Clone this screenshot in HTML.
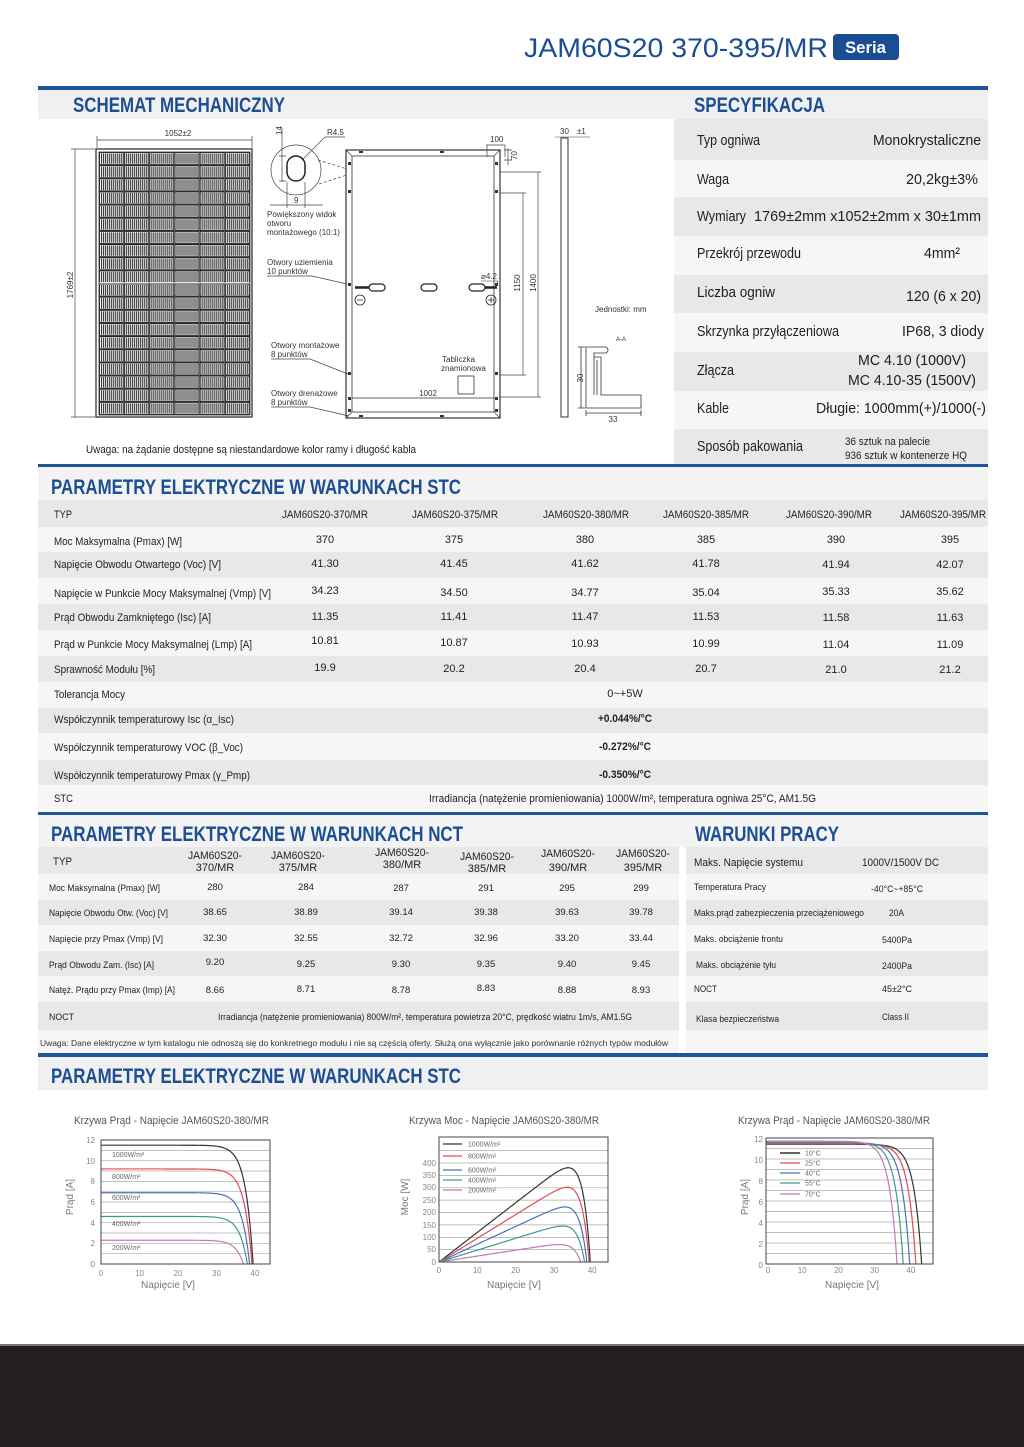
<!DOCTYPE html>
<html><head><meta charset="utf-8">
<style>
html,body{margin:0;padding:0;background:#fff;}
svg{display:block;font-family:"Liberation Sans",Arial,sans-serif;}
.h{font-weight:700;fill:#1d4e92;font-size:21px;}
.sp{font-size:15px;fill:#1e1e1e;}
.t{font-size:11px;fill:#222;}
.n{font-size:9.5px;fill:#222;}
.d{font-size:8px;fill:#333;}
.ax{font-size:8px;fill:#888;}
.at{font-size:10px;fill:#777;}
.ct{font-size:11px;fill:#555;}
.lg{font-size:7px;fill:#666;}
.m{text-anchor:middle;}
.e{text-anchor:end;}
</style></head><body>
<svg id="s" width="1024" height="1447" viewBox="0 0 1024 1447" xmlns="http://www.w3.org/2000/svg">
<defs>
<pattern id="cell" x="99" y="152" width="25.17" height="13.15" patternUnits="userSpaceOnUse">
<rect x="0.5" y="0.5" width="23.9" height="12.1" fill="#fff" stroke="#222" stroke-width="1"/>
<path d="M2.5 1.5V11.7M4.5 1.5V11.7M6.5 1.5V11.7M8.5 1.5V11.7M10.5 1.5V11.7M12.5 1.5V11.7M14.5 1.5V11.7M16.5 1.5V11.7M18.5 1.5V11.7M20.5 1.5V11.7M22.5 1.5V11.7" stroke="#333" stroke-width="1.1"/>
</pattern>
</defs>
<rect width="1024" height="1447" fill="#fff"/>

<!-- Title -->
<text x="524" y="57" font-size="27" fill="#1b4d95" textLength="304" lengthAdjust="spacingAndGlyphs">JAM60S20 370-395/MR</text>
<rect x="833" y="34" width="66" height="26" rx="4" fill="#1b4d95"/>
<text x="845" y="53" font-size="17" font-weight="bold" fill="#fff" textLength="41" lengthAdjust="spacingAndGlyphs">Seria</text>

<!-- Section 1 header -->
<rect x="38" y="86" width="950" height="4" fill="#1f5597"/>
<rect x="38" y="90" width="950" height="29" fill="#f0f0f0"/>
<text class="h" x="73" y="112" font-size="20" textLength="212" lengthAdjust="spacingAndGlyphs">SCHEMAT MECHANICZNY</text>
<text class="h" x="694" y="112" font-size="20" textLength="131" lengthAdjust="spacingAndGlyphs">SPECYFIKACJA</text>

<!-- Spec rows -->
<rect x="674" y="119" width="314" height="41" fill="#e8e8e8"/>
<rect x="674" y="160" width="314" height="37" fill="#f6f6f6"/>
<rect x="674" y="197" width="314" height="39" fill="#e8e8e8"/>
<rect x="674" y="236" width="314" height="39" fill="#f6f6f6"/>
<rect x="674" y="275" width="314" height="38" fill="#e8e8e8"/>
<rect x="674" y="313" width="314" height="39" fill="#f6f6f6"/>
<rect x="674" y="352" width="314" height="39" fill="#e8e8e8"/>
<rect x="674" y="391" width="314" height="38" fill="#f6f6f6"/>
<rect x="674" y="429" width="314" height="35" fill="#e8e8e8"/>

<text class="sp" x="697" y="145" textLength="63" lengthAdjust="spacingAndGlyphs">Typ ogniwa</text>
<text class="sp" x="873" y="145" textLength="108" lengthAdjust="spacingAndGlyphs">Monokrystaliczne</text>
<text class="sp" x="697" y="184" textLength="32" lengthAdjust="spacingAndGlyphs">Waga</text>
<text class="sp" x="906" y="184" textLength="72" lengthAdjust="spacingAndGlyphs">20,2kg±3%</text>
<text class="sp" x="697" y="221" textLength="49" lengthAdjust="spacingAndGlyphs">Wymiary</text>
<text class="sp" x="754" y="221" textLength="227" lengthAdjust="spacingAndGlyphs">1769±2mm x1052±2mm x 30±1mm</text>
<text class="sp" x="697" y="258" textLength="104" lengthAdjust="spacingAndGlyphs">Przekrój przewodu</text>
<text class="sp" x="924" y="258" textLength="36" lengthAdjust="spacingAndGlyphs">4mm²</text>
<text class="sp" x="697" y="297" textLength="78" lengthAdjust="spacingAndGlyphs">Liczba ogniw</text>
<text class="sp" x="906" y="301" textLength="75" lengthAdjust="spacingAndGlyphs">120 (6 x 20)</text>
<text class="sp" x="697" y="336" textLength="142" lengthAdjust="spacingAndGlyphs">Skrzynka przyłączeniowa</text>
<text class="sp" x="902" y="336" textLength="82" lengthAdjust="spacingAndGlyphs">IP68, 3 diody</text>
<text class="sp" x="697" y="375" textLength="37" lengthAdjust="spacingAndGlyphs">Złącza</text>
<text class="sp" x="858" y="365" textLength="108" lengthAdjust="spacingAndGlyphs">MC 4.10 (1000V)</text>
<text class="sp" x="848" y="385" textLength="128" lengthAdjust="spacingAndGlyphs">MC 4.10-35 (1500V)</text>
<text class="sp" x="697" y="413" textLength="32" lengthAdjust="spacingAndGlyphs">Kable</text>
<text class="sp" x="816" y="413" textLength="170" lengthAdjust="spacingAndGlyphs">Długie: 1000mm(+)/1000(-)</text>
<text class="sp" x="697" y="451" textLength="106" lengthAdjust="spacingAndGlyphs">Sposób pakowania</text>
<text x="845" y="445" font-size="11" fill="#222" textLength="85" lengthAdjust="spacingAndGlyphs">36 sztuk na palecie</text>
<text x="845" y="459" font-size="11" fill="#222" textLength="122" lengthAdjust="spacingAndGlyphs">936 sztuk w kontenerze HQ</text>

<!-- Mechanical drawing: front view -->
<g stroke="#444" stroke-width="0.7" fill="none">
<path d="M97 136V148M252 136V148M97 140H252"/>
<path d="M71 149H95M71 417H95M75 149V417"/>
</g>
<text class="d m" x="178" y="136">1052±2</text>
<text class="d m" transform="translate(73,285) rotate(-90)">1769±2</text>
<rect x="96" y="149" width="156" height="268" fill="#fff" stroke="#333" stroke-width="1.3"/>
<rect x="99" y="152" width="151" height="263" fill="url(#cell)" stroke="#333" stroke-width="0.8"/>
<path d="M99 283H250" stroke="#fff" stroke-width="1"/>

<!-- detail view -->
<g stroke="#444" stroke-width="0.7" fill="none">
<circle cx="296" cy="170" r="25"/>
<path d="M282 128V182M279 156H286M279 181H286"/>
<path d="M270 205H323M287 182V208M305 182V208"/>
<path d="M325 137H345M325 137L302 160"/>
<path d="M318 160L347 169M319 184L347 175" stroke-dasharray="3,2"/>
</g>
<rect x="287" y="156" width="18" height="25" rx="9" fill="none" stroke="#222" stroke-width="1.5"/>
<text class="d" transform="translate(282,135) rotate(-90)">14</text>
<text class="d" x="327" y="135">R4.5</text>
<text class="d" x="294" y="203">9</text>
<text class="d" x="267" y="217">Powiększony widok</text>
<text class="d" x="267" y="226">otworu</text>
<text class="d" x="267" y="235">montażowego (10:1)</text>
<text class="d" x="267" y="265">Otwory uziemienia</text>
<text class="d" x="267" y="274">10 punktów</text>
<text class="d" x="271" y="348">Otwory montażowe</text>
<text class="d" x="271" y="357">8 punktów</text>
<text class="d" x="271" y="396">Otwory drenażowe</text>
<text class="d" x="271" y="405">8 punktów</text>
<g stroke="#444" stroke-width="0.7" fill="none">
<path d="M267 276H312L347 284"/>
<path d="M271 359H310L348 374"/>
<path d="M271 407H310L349 416"/>
</g>

<!-- back view -->
<g stroke="#333" fill="none">
<rect x="346" y="150" width="154" height="268" stroke-width="1.2"/>
<rect x="352" y="156" width="142" height="256" stroke-width="0.8"/>
<path d="M346 150L352 156M500 150L494 156M346 418L352 412M500 418L494 412" stroke-width="0.7"/>
<path d="M352 398H494" stroke-width="0.8"/>
</g>
<g fill="#333">
<rect x="348" y="162" width="3" height="3"/><rect x="348" y="190" width="3" height="3"/><rect x="348" y="283" width="3" height="3"/><rect x="348" y="372" width="3" height="3"/><rect x="348" y="397" width="3" height="3"/><rect x="348" y="409" width="3" height="3"/>
<rect x="495" y="162" width="3" height="3"/><rect x="495" y="190" width="3" height="3"/><rect x="495" y="283" width="3" height="3"/><rect x="495" y="372" width="3" height="3"/><rect x="495" y="397" width="3" height="3"/><rect x="495" y="409" width="3" height="3"/>
<rect x="359" y="151" width="4" height="2"/><rect x="440" y="151" width="4" height="2"/><rect x="359" y="415" width="4" height="2"/><rect x="440" y="415" width="4" height="2"/>
</g>
<g fill="none" stroke="#222" stroke-width="1.2">
<rect x="369" y="284" width="16" height="7" rx="3.5"/>
<rect x="421" y="284" width="16" height="7" rx="3.5"/>
<rect x="469" y="284" width="16" height="7" rx="3.5"/>
<circle cx="360" cy="300" r="5" stroke-width="0.8"/>
<circle cx="491" cy="300" r="5" stroke-width="0.8"/>
<path d="M357 300H363M488 300H494M491 297V303" stroke-width="0.8"/>
</g>
<path d="M355 287.5H369M485 287.5H497" stroke="#222" stroke-width="2.5"/>
<text class="d" x="481" y="279">⌀4.2</text>
<path d="M481 281H498L494 288" stroke="#444" stroke-width="0.6" fill="none"/>
<g stroke="#444" stroke-width="0.7" fill="none">
<path d="M500 193H526M500 375H526M523 193V375M500 172H541M500 397H541M538 172V397"/>
<path d="M486 145H505M487 145V157M505 145V157"/>
<path d="M508 148V165M504 150H512M504 160H512"/>
</g>
<text class="d m" transform="translate(520,283) rotate(-90)">1150</text>
<text class="d m" transform="translate(536,283) rotate(-90)">1400</text>
<text class="d" x="490" y="142">100</text>
<text class="d" transform="translate(517,160) rotate(-90)">70</text>
<text class="d" x="442" y="362">Tabliczka</text>
<text class="d" x="441" y="371">znamionowa</text>
<rect x="458" y="376" width="16" height="18" fill="none" stroke="#333" stroke-width="0.8"/>
<text class="d m" x="428" y="396">1002</text>

<!-- side view -->
<rect x="561" y="138" width="7" height="279" fill="none" stroke="#333" stroke-width="1"/>
<path d="M555 137H590" stroke="#444" stroke-width="0.6"/>
<text class="d" x="560" y="134">30</text>
<text class="d" x="577" y="134">±1</text>
<text class="d" x="595" y="312">Jednostki: mm</text>
<text x="616" y="341" font-size="6" fill="#333">A-A</text>
<g fill="none" stroke="#333" stroke-width="0.8">
<path d="M586 347H606Q610 350 606 353H594V357H601V395H641V408H586Z"/>
<path d="M594 357V395M597 360V395"/>
<path d="M581 347V408M578 347H585M578 408H585"/>
<path d="M586 413H641M586 410V416M641 410V416"/>
</g>
<text class="d m" transform="translate(583,378) rotate(-90)">30</text>
<text class="d m" x="613" y="422">33</text>

<text x="86" y="453" font-size="11" fill="#222" textLength="330" lengthAdjust="spacingAndGlyphs">Uwaga: na żądanie dostępne są niestandardowe kolor ramy i długość kabla</text>

<!-- STC section -->
<rect x="38" y="464" width="950" height="3" fill="#1f5597"/>
<rect x="38" y="467" width="950" height="33" fill="#f3f3f3"/>
<text class="h" x="51" y="494" textLength="410" lengthAdjust="spacingAndGlyphs">PARAMETRY ELEKTRYCZNE W WARUNKACH STC</text>
<rect x="38" y="500" width="950" height="27" fill="#e8e8e8"/>
<rect x="38" y="527" width="950" height="25" fill="#f6f6f6"/>
<rect x="38" y="552" width="950" height="26" fill="#e8e8e8"/>
<rect x="38" y="578" width="950" height="26" fill="#f6f6f6"/>
<rect x="38" y="604" width="950" height="26" fill="#e8e8e8"/>
<rect x="38" y="630" width="950" height="26" fill="#f6f6f6"/>
<rect x="38" y="656" width="950" height="26" fill="#e8e8e8"/>
<rect x="38" y="682" width="950" height="26" fill="#f6f6f6"/>
<rect x="38" y="708" width="950" height="25" fill="#e8e8e8"/>
<rect x="38" y="733" width="950" height="27" fill="#f6f6f6"/>
<rect x="38" y="760" width="950" height="25" fill="#e8e8e8"/>
<rect x="38" y="785" width="950" height="27" fill="#f6f6f6"/>

<text class="t" x="54" y="518" textLength="18" lengthAdjust="spacingAndGlyphs">TYP</text>
<text class="t m" x="325" y="518" textLength="86" lengthAdjust="spacingAndGlyphs">JAM60S20-370/MR</text>
<text class="t m" x="455" y="518" textLength="86" lengthAdjust="spacingAndGlyphs">JAM60S20-375/MR</text>
<text class="t m" x="586" y="518" textLength="86" lengthAdjust="spacingAndGlyphs">JAM60S20-380/MR</text>
<text class="t m" x="706" y="518" textLength="86" lengthAdjust="spacingAndGlyphs">JAM60S20-385/MR</text>
<text class="t m" x="829" y="518" textLength="86" lengthAdjust="spacingAndGlyphs">JAM60S20-390/MR</text>
<text class="t m" x="943" y="518" textLength="86" lengthAdjust="spacingAndGlyphs">JAM60S20-395/MR</text>

<text class="t" x="54" y="545" textLength="128" lengthAdjust="spacingAndGlyphs">Moc Maksymalna (Pmax) [W]</text>
<text class="t m" x="325" y="543">370</text><text class="t m" x="454" y="543">375</text><text class="t m" x="585" y="543">380</text><text class="t m" x="706" y="543">385</text><text class="t m" x="836" y="543">390</text><text class="t m" x="950" y="543">395</text>

<text class="t" x="54" y="568" textLength="167" lengthAdjust="spacingAndGlyphs">Napięcie Obwodu Otwartego (Voc) [V]</text>
<text class="t m" x="325" y="567">41.30</text><text class="t m" x="454" y="567">41.45</text><text class="t m" x="585" y="567">41.62</text><text class="t m" x="706" y="567">41.78</text><text class="t m" x="836" y="568">41.94</text><text class="t m" x="950" y="568">42.07</text>

<text class="t" x="54" y="597" textLength="217" lengthAdjust="spacingAndGlyphs">Napięcie w Punkcie Mocy Maksymalnej (Vmp) [V]</text>
<text class="t m" x="325" y="594">34.23</text><text class="t m" x="454" y="596">34.50</text><text class="t m" x="585" y="596">34.77</text><text class="t m" x="706" y="596">35.04</text><text class="t m" x="836" y="595">35.33</text><text class="t m" x="950" y="595">35.62</text>

<text class="t" x="54" y="621" textLength="157" lengthAdjust="spacingAndGlyphs">Prąd Obwodu Zamkniętego (Isc) [A]</text>
<text class="t m" x="325" y="620">11.35</text><text class="t m" x="454" y="620">11.41</text><text class="t m" x="585" y="620">11.47</text><text class="t m" x="706" y="620">11.53</text><text class="t m" x="836" y="621">11.58</text><text class="t m" x="950" y="621">11.63</text>

<text class="t" x="54" y="648" textLength="198" lengthAdjust="spacingAndGlyphs">Prąd w Punkcie Mocy Maksymalnej (Lmp) [A]</text>
<text class="t m" x="325" y="644">10.81</text><text class="t m" x="454" y="646">10.87</text><text class="t m" x="585" y="647">10.93</text><text class="t m" x="706" y="647">10.99</text><text class="t m" x="836" y="648">11.04</text><text class="t m" x="950" y="648">11.09</text>

<text class="t" x="54" y="673" textLength="101" lengthAdjust="spacingAndGlyphs">Sprawność Modułu [%]</text>
<text class="t m" x="325" y="671">19.9</text><text class="t m" x="454" y="672">20.2</text><text class="t m" x="585" y="672">20.4</text><text class="t m" x="706" y="672">20.7</text><text class="t m" x="836" y="673">21.0</text><text class="t m" x="950" y="673">21.2</text>

<text class="t" x="54" y="698" textLength="71" lengthAdjust="spacingAndGlyphs">Tolerancja Mocy</text>
<text class="t m" x="625" y="697">0~+5W</text>
<text class="t" x="54" y="723" textLength="180" lengthAdjust="spacingAndGlyphs">Współczynnik temperaturowy  Isc (α_Isc)</text>
<text class="t m" x="625" y="722" font-weight="bold" textLength="54" lengthAdjust="spacingAndGlyphs">+0.044%/°C</text>
<text class="t" x="54" y="751" textLength="189" lengthAdjust="spacingAndGlyphs">Współczynnik temperaturowy VOC (β_Voc)</text>
<text class="t m" x="625" y="750" font-weight="bold" textLength="52" lengthAdjust="spacingAndGlyphs">-0.272%/°C</text>
<text class="t" x="54" y="779" textLength="196" lengthAdjust="spacingAndGlyphs">Współczynnik temperaturowy Pmax (γ_Pmp)</text>
<text class="t m" x="625" y="778" font-weight="bold" textLength="52" lengthAdjust="spacingAndGlyphs">-0.350%/°C</text>
<text class="t" x="54" y="802" textLength="19" lengthAdjust="spacingAndGlyphs">STC</text>
<text class="t" x="429" y="802" textLength="387" lengthAdjust="spacingAndGlyphs">Irradiancja   (natężenie promieniowania)  1000W/m², temperatura ogniwa 25°C, AM1.5G</text>

<!-- NCT section -->
<rect x="38" y="812" width="950" height="3" fill="#1f5597"/>
<rect x="38" y="815" width="950" height="32" fill="#f3f3f3"/>
<text class="h" x="51" y="841" textLength="412" lengthAdjust="spacingAndGlyphs">PARAMETRY ELEKTRYCZNE W WARUNKACH NCT</text>
<text class="h" x="695" y="841" textLength="144" lengthAdjust="spacingAndGlyphs">WARUNKI PRACY</text>
<rect x="38" y="847" width="641" height="27" fill="#e8e8e8"/>
<rect x="38" y="874" width="641" height="26" fill="#f6f6f6"/>
<rect x="38" y="900" width="641" height="25" fill="#e8e8e8"/>
<rect x="38" y="925" width="641" height="26" fill="#f6f6f6"/>
<rect x="38" y="951" width="641" height="25" fill="#e8e8e8"/>
<rect x="38" y="976" width="641" height="26" fill="#f6f6f6"/>
<rect x="38" y="1002" width="641" height="28" fill="#e8e8e8"/>
<rect x="38" y="1030" width="641" height="23" fill="#f6f6f6"/>
<rect x="686" y="847" width="302" height="27" fill="#e8e8e8"/>
<rect x="686" y="874" width="302" height="26" fill="#f6f6f6"/>
<rect x="686" y="900" width="302" height="25" fill="#e8e8e8"/>
<rect x="686" y="925" width="302" height="26" fill="#f6f6f6"/>
<rect x="686" y="951" width="302" height="25" fill="#e8e8e8"/>
<rect x="686" y="976" width="302" height="26" fill="#f6f6f6"/>
<rect x="686" y="1002" width="302" height="28" fill="#e8e8e8"/>
<rect x="686" y="1030" width="302" height="23" fill="#f6f6f6"/>

<text class="t" x="53" y="865" textLength="19" lengthAdjust="spacingAndGlyphs">TYP</text>
<text class="t m" x="215" y="859" textLength="54" lengthAdjust="spacingAndGlyphs">JAM60S20-</text><text class="t m" x="215" y="871">370/MR</text>
<text class="t m" x="298" y="859" textLength="54" lengthAdjust="spacingAndGlyphs">JAM60S20-</text><text class="t m" x="298" y="871">375/MR</text>
<text class="t m" x="402" y="856" textLength="54" lengthAdjust="spacingAndGlyphs">JAM60S20-</text><text class="t m" x="402" y="868">380/MR</text>
<text class="t m" x="487" y="860" textLength="54" lengthAdjust="spacingAndGlyphs">JAM60S20-</text><text class="t m" x="487" y="872">385/MR</text>
<text class="t m" x="568" y="857" textLength="54" lengthAdjust="spacingAndGlyphs">JAM60S20-</text><text class="t m" x="568" y="871">390/MR</text>
<text class="t m" x="643" y="857" textLength="54" lengthAdjust="spacingAndGlyphs">JAM60S20-</text><text class="t m" x="643" y="871">395/MR</text>

<text class="n" x="49" y="891" textLength="111" lengthAdjust="spacingAndGlyphs">Moc Maksymalna (Pmax) [W]</text>
<text class="n m" x="215" y="890">280</text><text class="n m" x="306" y="890">284</text><text class="n m" x="401" y="891">287</text><text class="n m" x="486" y="891">291</text><text class="n m" x="567" y="891">295</text><text class="n m" x="641" y="891">299</text>
<text class="n" x="49" y="916" textLength="119" lengthAdjust="spacingAndGlyphs">Napięcie Obwodu Otw. (Voc) [V]</text>
<text class="n m" x="215" y="915">38.65</text><text class="n m" x="306" y="915">38.89</text><text class="n m" x="401" y="915">39.14</text><text class="n m" x="486" y="915">39.38</text><text class="n m" x="567" y="915">39.63</text><text class="n m" x="641" y="915">39.78</text>
<text class="n" x="49" y="942" textLength="114" lengthAdjust="spacingAndGlyphs">Napięcie przy Pmax (Vmp) [V]</text>
<text class="n m" x="215" y="941">32.30</text><text class="n m" x="306" y="941">32.55</text><text class="n m" x="401" y="941">32.72</text><text class="n m" x="486" y="941">32.96</text><text class="n m" x="567" y="941">33.20</text><text class="n m" x="641" y="941">33.44</text>
<text class="n" x="49" y="968" textLength="105" lengthAdjust="spacingAndGlyphs">Prąd Obwodu Zam. (Isc) [A]</text>
<text class="n m" x="215" y="965">9.20</text><text class="n m" x="306" y="967">9.25</text><text class="n m" x="401" y="967">9.30</text><text class="n m" x="486" y="967">9.35</text><text class="n m" x="567" y="967">9.40</text><text class="n m" x="641" y="967">9.45</text>
<text class="n" x="49" y="993" textLength="126" lengthAdjust="spacingAndGlyphs">Natęż. Prądu przy Pmax (Imp) [A]</text>
<text class="n m" x="215" y="993">8.66</text><text class="n m" x="306" y="992">8.71</text><text class="n m" x="401" y="993">8.78</text><text class="n m" x="486" y="991">8.83</text><text class="n m" x="567" y="993">8.88</text><text class="n m" x="641" y="993">8.93</text>
<text class="n" x="49" y="1020" textLength="25" lengthAdjust="spacingAndGlyphs">NOCT</text>
<text class="n" x="218" y="1020" textLength="414" lengthAdjust="spacingAndGlyphs">Irradiancja (natężenie promieniowania) 800W/m², temperatura powietrza 20°C, prędkość wiatru 1m/s, AM1.5G</text>
<text x="40" y="1046" font-size="8.5" fill="#333" textLength="628" lengthAdjust="spacingAndGlyphs">Uwaga: Dane elektryczne w tym katalogu nie odnoszą się do konkretnego modułu i nie są częścią oferty. Służą ona wyłącznie jako porównanie różnych typów modułów</text>

<text x="694" y="866" font-size="11" fill="#222" textLength="109" lengthAdjust="spacingAndGlyphs">Maks. Napięcie  systemu</text>
<text x="862" y="866" font-size="11" fill="#222" textLength="77" lengthAdjust="spacingAndGlyphs">1000V/1500V DC</text>
<text class="n" x="694" y="890" textLength="72" lengthAdjust="spacingAndGlyphs">Temperatura Pracy</text>
<text class="n" x="871" y="892" textLength="52" lengthAdjust="spacingAndGlyphs">-40°C~+85°C</text>
<text class="n" x="694" y="916" textLength="170" lengthAdjust="spacingAndGlyphs">Maks.prąd zabezpieczenia przeciążeniowego</text>
<text class="n" x="889" y="916" textLength="15" lengthAdjust="spacingAndGlyphs">20A</text>
<text class="n" x="694" y="942" textLength="89" lengthAdjust="spacingAndGlyphs">Maks. obciążenie frontu</text>
<text class="n" x="882" y="943" textLength="30" lengthAdjust="spacingAndGlyphs">5400Pa</text>
<text class="n" x="696" y="968" textLength="80" lengthAdjust="spacingAndGlyphs">Maks. obciążenie tyłu</text>
<text class="n" x="882" y="969" textLength="30" lengthAdjust="spacingAndGlyphs">2400Pa</text>
<text class="n" x="694" y="992" textLength="23" lengthAdjust="spacingAndGlyphs">NOCT</text>
<text class="n" x="882" y="992" textLength="30" lengthAdjust="spacingAndGlyphs">45±2°C</text>
<text class="n" x="696" y="1022" textLength="83" lengthAdjust="spacingAndGlyphs">Klasa bezpieczeństwa</text>
<text class="n" x="882" y="1020" textLength="27" lengthAdjust="spacingAndGlyphs">Class II</text>

<!-- Bottom section -->
<rect x="38" y="1053" width="950" height="4" fill="#1f5597"/>
<rect x="38" y="1057" width="950" height="33" fill="#f0f0f0"/>
<text class="h" x="51" y="1083" textLength="410" lengthAdjust="spacingAndGlyphs">PARAMETRY ELEKTRYCZNE W WARUNKACH STC</text>

<!-- Chart 1 -->
<text class="ct" x="74" y="1124" textLength="195" lengthAdjust="spacingAndGlyphs">Krzywa Prąd - Napięcie  JAM60S20-380/MR</text>
<path d="M101 1253.7H270M101 1243.3H270M101 1233H270M101 1222.7H270M101 1212.4H270M101 1202H270M101 1191.7H270M101 1181.4H270M101 1171H270M101 1160.7H270M101 1150.4H270" stroke="#aaa" stroke-width="0.7" fill="none"/>
<g id="c1"></g>
<rect x="101" y="1140" width="169" height="124" fill="none" stroke="#444" stroke-width="1"/>
<text class="lg" x="112" y="1157">1000W/m²</text>
<text class="lg" x="112" y="1179">800W/m²</text>
<text class="lg" x="112" y="1200">600W/m²</text>
<text class="lg" x="112" y="1226">400W/m²</text>
<text class="lg" x="112" y="1250">200W/m²</text>
<text class="ax e" x="95" y="1143">12</text>
<text class="ax e" x="95" y="1164">10</text>
<text class="ax e" x="95" y="1184">8</text>
<text class="ax e" x="95" y="1205">6</text>
<text class="ax e" x="95" y="1226">4</text>
<text class="ax e" x="95" y="1246">2</text>
<text class="ax e" x="95" y="1267">0</text>
<text class="ax m" x="101" y="1276">0</text>
<text class="ax m" x="139.5" y="1276">10</text>
<text class="ax m" x="178" y="1276">20</text>
<text class="ax m" x="216.5" y="1276">30</text>
<text class="ax m" x="255" y="1276">40</text>
<text class="at m" transform="translate(73,1197) rotate(-90)">Prąd [A]</text>
<text class="at m" x="168" y="1288">Napięcie [V]</text>

<!-- Chart 2 -->
<text class="ct" x="409" y="1124" textLength="190" lengthAdjust="spacingAndGlyphs">Krzywa Moc - Napięcie JAM60S20-380/MR</text>
<path d="M439 1249.6H608M439 1237.5H608M439 1224.9H608M439 1212.5H608M439 1200.1H608M439 1187.8H608M439 1175.4H608M439 1163H608M439 1150.6H608" stroke="#aaa" stroke-width="0.7" fill="none"/>
<g id="c2"></g>
<rect x="439" y="1137" width="169" height="125" fill="none" stroke="#444" stroke-width="1"/>
<g stroke-width="1.2">
<path d="M443 1144H462" stroke="#333"/>
<path d="M443 1156H462" stroke="#e34b55"/>
<path d="M443 1170H462" stroke="#4d6fb8"/>
<path d="M443 1180H462" stroke="#3d9b8c"/>
<path d="M443 1190H462" stroke="#c47ab8"/>
</g>
<text class="lg" x="468" y="1146.5">1000W/m²</text>
<text class="lg" x="468" y="1158.5">800W/m²</text>
<text class="lg" x="468" y="1172.5">600W/m²</text>
<text class="lg" x="468" y="1182.5">400W/m²</text>
<text class="lg" x="468" y="1192.5">200W/m²</text>
<text class="ax e" x="436" y="1166">400</text>
<text class="ax e" x="436" y="1178">350</text>
<text class="ax e" x="436" y="1190">300</text>
<text class="ax e" x="436" y="1203">250</text>
<text class="ax e" x="436" y="1215">200</text>
<text class="ax e" x="436" y="1228">150</text>
<text class="ax e" x="436" y="1240">100</text>
<text class="ax e" x="436" y="1252">50</text>
<text class="ax e" x="436" y="1265">0</text>
<text class="ax m" x="439" y="1273">0</text>
<text class="ax m" x="477.3" y="1273">10</text>
<text class="ax m" x="515.6" y="1273">20</text>
<text class="ax m" x="553.9" y="1273">30</text>
<text class="ax m" x="592.2" y="1273">40</text>
<text class="at m" transform="translate(408,1197) rotate(-90)">Moc [W]</text>
<text class="at m" x="514" y="1288">Napięcie [V]</text>

<!-- Chart 3 -->
<text class="ct" x="738" y="1124" textLength="192" lengthAdjust="spacingAndGlyphs">Krzywa Prąd - Napięcie JAM60S20-380/MR</text>
<path d="M766 1253.5H933M766 1243H933M766 1232.5H933M766 1222H933M766 1211.5H933M766 1201H933M766 1190.5H933M766 1180H933M766 1169.5H933M766 1159H933M766 1148.5H933" stroke="#aaa" stroke-width="0.7" fill="none"/>
<g id="c3"></g>
<rect x="766" y="1138" width="167" height="126" fill="none" stroke="#444" stroke-width="1"/>
<g stroke-width="1.2">
<path d="M780 1153H800" stroke="#333" stroke-width="1.6"/>
<path d="M780 1163H800" stroke="#e34b55"/>
<path d="M780 1173H800" stroke="#4d6fb8"/>
<path d="M780 1183H800" stroke="#3d9b8c"/>
<path d="M780 1194H800" stroke="#c47ab8"/>
</g>
<text class="lg" x="805" y="1155.5">10°C</text>
<text class="lg" x="805" y="1165.5">25°C</text>
<text class="lg" x="805" y="1175.5">40°C</text>
<text class="lg" x="805" y="1185.5">55°C</text>
<text class="lg" x="805" y="1196.5">70°C</text>
<text class="ax e" x="763" y="1142">12</text>
<text class="ax e" x="763" y="1163">10</text>
<text class="ax e" x="763" y="1184">8</text>
<text class="ax e" x="763" y="1205">6</text>
<text class="ax e" x="763" y="1226">4</text>
<text class="ax e" x="763" y="1247">2</text>
<text class="ax e" x="763" y="1268">0</text>
<text class="ax m" x="768" y="1273">0</text>
<text class="ax m" x="802.2" y="1273">10</text>
<text class="ax m" x="838.4" y="1273">20</text>
<text class="ax m" x="874.6" y="1273">30</text>
<text class="ax m" x="910.8" y="1273">40</text>
<text class="at m" transform="translate(748,1197) rotate(-90)">Prąd [A]</text>
<text class="at m" x="852" y="1288">Napięcie [V]</text>

<!-- Footer -->
<rect x="0" y="1344" width="1024" height="2" fill="#777"/>
<rect x="0" y="1346" width="1024" height="101" fill="#231f20"/>
</svg>
<script>
(function(){
var NS='http://www.w3.org/2000/svg';
function curve(id,fx,fy,Isc,Voc,Vt,power,k,color,w){
  var d='',N=160;
  for(var i=0;i<=N;i++){
    var V=Voc*i/N;
    var I=Isc*(1-Math.exp((V-Voc)/Vt)); if(I<0)I=0;
    var val=power?V*I*k:I;
    d+=(i?'L':'M')+fx(V).toFixed(2)+' '+fy(val).toFixed(2);
  }
  var p=document.createElementNS(NS,'path');
  p.setAttribute('d',d);p.setAttribute('fill','none');
  p.setAttribute('stroke',color);p.setAttribute('stroke-width',w||'1.2');
  document.getElementById(id).appendChild(p);
}
var cols=['#333','#e34b55','#4d6fb8','#3d9b8c','#c47ab8'];
var irr=[[11.5,39.5],[9.2,39.2],[6.9,38.6],[4.6,38.0],[2.3,37.0]];
var f1x=function(V){return 101+V*3.85;}, f1y=function(I){return 1264-I*10.33;};
var f2x=function(V){return 439+V*3.83;}, f2y=function(P){return 1262-P*0.2475;};
for(var i=0;i<5;i++){
  curve('c1',f1x,f1y,irr[i][0],irr[i][1],2.0,false,1,cols[i]);
  curve('c2',f2x,f2y,irr[i][0],irr[i][1],2.0,true,1.04,cols[i]);
}
var f3x=function(V){return 766+V*3.62;}, f3y=function(I){return 1264-I*10.5;};
var tmp=[[11.4,43.0],[11.45,41.4],[11.55,39.7],[11.6,37.9],[11.7,36.2]];
for(var j=0;j<5;j++){
  curve('c3',f3x,f3y,tmp[j][0],tmp[j][1],2.2,false,1,cols[j]);
}
})();
</script>
</body></html>
